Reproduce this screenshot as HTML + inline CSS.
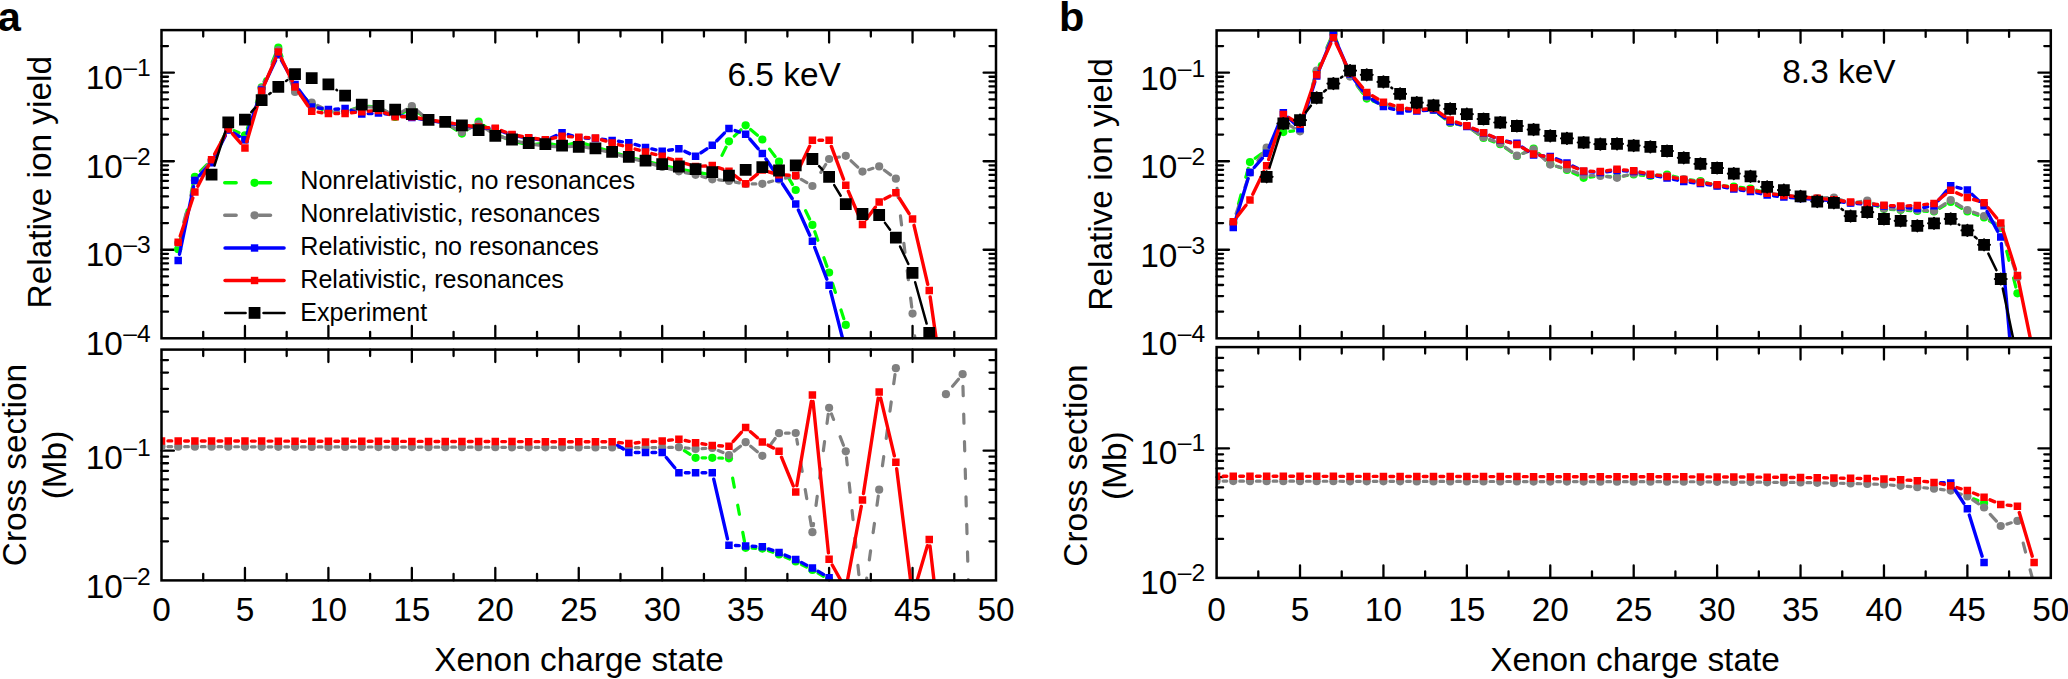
<!DOCTYPE html>
<html lang="en"><head><meta charset="utf-8"><title>Xenon charge state distributions</title>
<style>html,body{margin:0;padding:0;background:#fff}body{width:2068px;height:679px;overflow:hidden}svg{display:block}text{font-family:"Liberation Sans", Arial, Helvetica, sans-serif;fill:#000}</style></head><body>
<svg width="2068" height="679" viewBox="0 0 2068 679">
<rect width="2068" height="679" fill="#fff"/>
<clipPath id="c1"><rect x="161.5" y="30.1" width="834.5" height="308.2"/></clipPath>
<path d="M203.22 30.1v6.5M203.22 338.3v-6.5M244.95 30.1v12.4M244.95 338.3v-12.4M286.68 30.1v6.5M286.68 338.3v-6.5M328.4 30.1v12.4M328.4 338.3v-12.4M370.12 30.1v6.5M370.12 338.3v-6.5M411.85 30.1v12.4M411.85 338.3v-12.4M453.58 30.1v6.5M453.58 338.3v-6.5M495.3 30.1v12.4M495.3 338.3v-12.4M537.03 30.1v6.5M537.03 338.3v-6.5M578.75 30.1v12.4M578.75 338.3v-12.4M620.48 30.1v6.5M620.48 338.3v-6.5M662.2 30.1v12.4M662.2 338.3v-12.4M703.93 30.1v6.5M703.93 338.3v-6.5M745.65 30.1v12.4M745.65 338.3v-12.4M787.38 30.1v6.5M787.38 338.3v-6.5M829.1 30.1v12.4M829.1 338.3v-12.4M870.83 30.1v6.5M870.83 338.3v-6.5M912.55 30.1v12.4M912.55 338.3v-12.4M954.28 30.1v6.5M954.28 338.3v-6.5M161.5 249.76h12.4M996 249.76h-12.4M161.5 161.23h12.4M996 161.23h-12.4M161.5 72.7h12.4M996 72.7h-12.4M161.5 311.64h6.5M996 311.64h-6.5M161.5 296.05h6.5M996 296.05h-6.5M161.5 284.99h6.5M996 284.99h-6.5M161.5 276.41h6.5M996 276.41h-6.5M161.5 269.4h6.5M996 269.4h-6.5M161.5 263.47h6.5M996 263.47h-6.5M161.5 258.34h6.5M996 258.34h-6.5M161.5 253.81h6.5M996 253.81h-6.5M161.5 223.11h6.5M996 223.11h-6.5M161.5 207.52h6.5M996 207.52h-6.5M161.5 196.46h6.5M996 196.46h-6.5M161.5 187.88h6.5M996 187.88h-6.5M161.5 180.87h6.5M996 180.87h-6.5M161.5 174.94h6.5M996 174.94h-6.5M161.5 169.81h6.5M996 169.81h-6.5M161.5 165.28h6.5M996 165.28h-6.5M161.5 134.58h6.5M996 134.58h-6.5M161.5 118.99h6.5M996 118.99h-6.5M161.5 107.93h6.5M996 107.93h-6.5M161.5 99.35h6.5M996 99.35h-6.5M161.5 92.34h6.5M996 92.34h-6.5M161.5 86.41h6.5M996 86.41h-6.5M161.5 81.28h6.5M996 81.28h-6.5M161.5 76.75h6.5M996 76.75h-6.5M161.5 46.05h6.5M996 46.05h-6.5" fill="none" stroke="#000" stroke-width="2.3" stroke-linecap="round"/>
<g clip-path="url(#c1)">
<path d="M193.42 183.13L179.65 242.87M206.99 164.61L199.46 172.19M225.25 133.76L214.58 154.24M238.99 132.7L234.22 130.6M259.5 93.54L247.09 129.16M275.81 53.69L264.16 81.41M292.53 81.99L280.82 53.71M307.16 100.36L299.57 92.64M322.41 109.49L317.7 107.51M338.59 112L334.9 112M355.66 108.2L351.21 109.8M371.98 106.61L368.27 106.39M389.58 113.66L384.05 110.34M406.13 111.09L400.88 113.91M423.26 116.21L417.13 111.79M456.43 130.12L450.72 126.48M473.33 125.39L467.2 129.81M490.08 130.12L483.83 125.48M506 138.49L501.29 136.51M522.36 143.49L518.31 142.51M538.92 143.77L535.13 144.23M555.66 144.85L551.77 144.15M572.43 143.51L568.38 144.49M589.21 145.13L584.98 143.87M605.9 150.13L601.67 148.87M622.59 155.13L618.36 153.87M639.19 159.49L635.14 158.51M655.88 163.49L651.83 162.51M672.57 167.49L668.52 166.51M689.18 170.85L685.29 170.15M705.87 173.85L701.98 173.15M726.08 147.12L715.15 169.18M740.96 129.8L733.65 136.8M757.39 135.29L750.6 129.51M775.12 156.5L766.25 144.7M792.42 184.4L782.33 167.3M809.61 219.04L798.52 195.86M826.95 266.37L814.56 231.03M843.82 318.71L831.07 278.69" fill="none" stroke="#00ff00" stroke-width="3.2" stroke-linecap="round" stroke-dasharray="9.2 18.4"/>
<circle cx="178.19" cy="249.2" r="4.1" fill="#00ff00"/><circle cx="194.88" cy="176.8" r="4.1" fill="#00ff00"/><circle cx="228.26" cy="128" r="4.1" fill="#00ff00"/><circle cx="244.95" cy="135.3" r="4.1" fill="#00ff00"/><circle cx="261.64" cy="87.4" r="4.1" fill="#00ff00"/><circle cx="278.33" cy="47.7" r="4.1" fill="#00ff00"/><circle cx="295.02" cy="88" r="4.1" fill="#00ff00"/><circle cx="311.71" cy="105" r="4.1" fill="#00ff00"/><circle cx="328.4" cy="112" r="4.1" fill="#00ff00"/><circle cx="361.78" cy="106" r="4.1" fill="#00ff00"/><circle cx="395.16" cy="117" r="4.1" fill="#00ff00"/><circle cx="411.85" cy="108" r="4.1" fill="#00ff00"/><circle cx="461.92" cy="133.6" r="4.1" fill="#00ff00"/><circle cx="478.61" cy="121.6" r="4.1" fill="#00ff00"/><circle cx="495.3" cy="134" r="4.1" fill="#00ff00"/><circle cx="511.99" cy="141" r="4.1" fill="#00ff00"/><circle cx="528.68" cy="145" r="4.1" fill="#00ff00"/><circle cx="545.37" cy="143" r="4.1" fill="#00ff00"/><circle cx="562.06" cy="146" r="4.1" fill="#00ff00"/><circle cx="578.75" cy="142" r="4.1" fill="#00ff00"/><circle cx="595.44" cy="147" r="4.1" fill="#00ff00"/><circle cx="612.13" cy="152" r="4.1" fill="#00ff00"/><circle cx="628.82" cy="157" r="4.1" fill="#00ff00"/><circle cx="645.51" cy="161" r="4.1" fill="#00ff00"/><circle cx="662.2" cy="165" r="4.1" fill="#00ff00"/><circle cx="678.89" cy="169" r="4.1" fill="#00ff00"/><circle cx="695.58" cy="172" r="4.1" fill="#00ff00"/><circle cx="712.27" cy="175" r="4.1" fill="#00ff00"/><circle cx="728.96" cy="141.3" r="4.1" fill="#00ff00"/><circle cx="745.65" cy="125.3" r="4.1" fill="#00ff00"/><circle cx="762.34" cy="139.5" r="4.1" fill="#00ff00"/><circle cx="779.03" cy="161.7" r="4.1" fill="#00ff00"/><circle cx="795.72" cy="190" r="4.1" fill="#00ff00"/><circle cx="812.41" cy="224.9" r="4.1" fill="#00ff00"/><circle cx="829.1" cy="272.5" r="4.1" fill="#00ff00"/><circle cx="845.79" cy="324.9" r="4.1" fill="#00ff00"/>
<path d="M193.21 186.68L179.86 236.72M207.45 165.03L199 175.37M225.14 135.2L214.69 154.3M239.37 136.16L233.84 132.84M259.64 94.18L246.95 133.32M275.72 55.95L264.25 82.05M292.61 85.86L280.74 56.04M306.22 99.02L300.51 95.38M322.61 108.05L317.5 105.45M338.6 111.61L334.89 111.39M355.55 108.87L351.32 110.13M371.97 107L368.28 107M389.44 112.91L384.19 110.09M406.24 109.49L400.77 112.71M423.53 115.86L416.86 110.34M438.83 121.85L434.94 121.15M456.18 128.84L450.97 126.06M472.73 126.78L467.8 129.12M489.87 131.42L484.04 127.58M505.76 138.13L501.53 136.87M522.36 142.49L518.31 141.51M538.92 145.23L535.13 144.77M555.57 146.61L551.86 146.39M572.26 146.39L568.55 146.61M589.04 147.85L585.15 147.15M605.81 151.49L601.76 150.51M622.59 156.13L618.36 154.87M639.19 160.49L635.14 159.51M655.97 165.13L651.74 163.87M672.6 169.68L668.49 168.62M689.22 173.47L685.25 172.63M705.99 177.61L701.86 176.49M722.49 180.34L718.74 179.96M739.25 182.85L735.36 182.15M755.84 183.88L752.15 183.92M772.74 181.06L768.63 182.14M789.35 177.3L785.4 178.1M806.83 182.66L801.3 179.34M825.68 164.53L815.83 180.47M839.41 157.02L835.48 157.78M857.76 167.13L850.51 160.27M872.96 168.33L868.69 169.67M890.63 174.84L884.4 170.26M911.75 307.15L896.66 185.15M928.62 482.33L913.17 320.07" fill="none" stroke="#808080" stroke-width="3.2" stroke-linecap="round" stroke-dasharray="9.2 18.4"/>
<circle cx="178.19" cy="243" r="4.1" fill="#808080"/><circle cx="194.88" cy="180.4" r="4.1" fill="#808080"/><circle cx="211.57" cy="160" r="4.1" fill="#808080"/><circle cx="228.26" cy="129.5" r="4.1" fill="#808080"/><circle cx="244.95" cy="139.5" r="4.1" fill="#808080"/><circle cx="261.64" cy="88" r="4.1" fill="#808080"/><circle cx="278.33" cy="50" r="4.1" fill="#808080"/><circle cx="295.02" cy="91.9" r="4.1" fill="#808080"/><circle cx="311.71" cy="102.5" r="4.1" fill="#808080"/><circle cx="328.4" cy="111" r="4.1" fill="#808080"/><circle cx="345.09" cy="112" r="4.1" fill="#808080"/><circle cx="361.78" cy="107" r="4.1" fill="#808080"/><circle cx="378.47" cy="107" r="4.1" fill="#808080"/><circle cx="395.16" cy="116" r="4.1" fill="#808080"/><circle cx="411.85" cy="106.2" r="4.1" fill="#808080"/><circle cx="428.54" cy="120" r="4.1" fill="#808080"/><circle cx="445.23" cy="123" r="4.1" fill="#808080"/><circle cx="461.92" cy="131.9" r="4.1" fill="#808080"/><circle cx="478.61" cy="124" r="4.1" fill="#808080"/><circle cx="495.3" cy="135" r="4.1" fill="#808080"/><circle cx="511.99" cy="140" r="4.1" fill="#808080"/><circle cx="528.68" cy="144" r="4.1" fill="#808080"/><circle cx="545.37" cy="146" r="4.1" fill="#808080"/><circle cx="562.06" cy="147" r="4.1" fill="#808080"/><circle cx="578.75" cy="146" r="4.1" fill="#808080"/><circle cx="595.44" cy="149" r="4.1" fill="#808080"/><circle cx="612.13" cy="153" r="4.1" fill="#808080"/><circle cx="628.82" cy="158" r="4.1" fill="#808080"/><circle cx="645.51" cy="162" r="4.1" fill="#808080"/><circle cx="662.2" cy="167" r="4.1" fill="#808080"/><circle cx="678.89" cy="171.3" r="4.1" fill="#808080"/><circle cx="695.58" cy="174.8" r="4.1" fill="#808080"/><circle cx="712.27" cy="179.3" r="4.1" fill="#808080"/><circle cx="728.96" cy="181" r="4.1" fill="#808080"/><circle cx="745.65" cy="184" r="4.1" fill="#808080"/><circle cx="762.34" cy="183.8" r="4.1" fill="#808080"/><circle cx="779.03" cy="179.4" r="4.1" fill="#808080"/><circle cx="795.72" cy="176" r="4.1" fill="#808080"/><circle cx="812.41" cy="186" r="4.1" fill="#808080"/><circle cx="829.1" cy="159" r="4.1" fill="#808080"/><circle cx="845.79" cy="155.8" r="4.1" fill="#808080"/><circle cx="862.48" cy="171.6" r="4.1" fill="#808080"/><circle cx="879.17" cy="166.4" r="4.1" fill="#808080"/><circle cx="895.86" cy="178.7" r="4.1" fill="#808080"/><circle cx="912.55" cy="313.6" r="4.1" fill="#808080"/><circle cx="929.24" cy="488.8" r="4.1" fill="#808080"/>
<path d="M193.56 186.76L179.51 254.24M207.11 167.43L199.34 175.67M225.31 135.79L214.52 156.91M239.33 136.43L233.88 133.27M259.57 96.16L247.02 133.54M275.55 60.58L264.42 84.12M291.84 78.83L281.51 60.37M307.83 101.69L298.9 89.71M321.98 108.5L318.13 107.9M338.6 108.95L334.89 109.15M355.6 112L351.27 110.6M371.98 113.45L368.27 113.65M388.7 114.26L384.93 113.84M405.42 116.47L401.59 115.93M422.16 119.38L418.23 118.62M438.78 121.83L434.99 121.37M455.52 124.45L451.63 123.75M472.16 126.83L468.37 126.37M488.82 128.4L485.09 128.1M505.9 132.84L501.39 131.16M522.3 137.08L518.37 136.32M538.92 139.59L535.13 139.11M556.16 135.42L551.27 137.68M572.53 135.9L568.28 134.6M588.95 138.29L585.24 138.11M605.67 139.7L601.9 139.3M622.38 141.81L618.57 141.29M639.25 145.64L635.08 144.46M655.87 149.82L651.84 148.88M672.47 149.7L668.62 150.3M689.66 153.61L684.81 151.39M706.84 148.88L701.01 152.72M724.38 133.11L716.85 140.69M739.5 132.1L735.11 130.6M758.1 148.67L749.89 139.13M775.4 173.01L765.97 158.99M792.17 198.55L782.58 183.85M809.75 235.27L798.38 209.93M826.8 279.22L814.71 247.28M844.19 344.7L830.7 291.6" fill="none" stroke="#0000ff" stroke-width="3.4" stroke-linecap="round"/>
<path d="M174.44 256.85h7.5v7.5h-7.5zM191.13 176.65h7.5v7.5h-7.5zM207.82 158.95h7.5v7.5h-7.5zM224.51 126.25h7.5v7.5h-7.5zM241.2 135.95h7.5v7.5h-7.5zM257.89 86.25h7.5v7.5h-7.5zM274.58 50.95h7.5v7.5h-7.5zM291.27 80.75h7.5v7.5h-7.5zM307.96 103.15h7.5v7.5h-7.5zM324.65 105.75h7.5v7.5h-7.5zM341.34 104.85h7.5v7.5h-7.5zM358.03 110.25h7.5v7.5h-7.5zM374.72 109.35h7.5v7.5h-7.5zM391.41 111.25h7.5v7.5h-7.5zM408.1 113.65h7.5v7.5h-7.5zM424.79 116.85h7.5v7.5h-7.5zM441.48 118.85h7.5v7.5h-7.5zM458.17 121.85h7.5v7.5h-7.5zM474.86 123.85h7.5v7.5h-7.5zM491.55 125.15h7.5v7.5h-7.5zM508.24 131.35h7.5v7.5h-7.5zM524.93 134.55h7.5v7.5h-7.5zM541.62 136.65h7.5v7.5h-7.5zM558.31 128.95h7.5v7.5h-7.5zM575 134.05h7.5v7.5h-7.5zM591.69 134.85h7.5v7.5h-7.5zM608.38 136.65h7.5v7.5h-7.5zM625.07 138.95h7.5v7.5h-7.5zM641.76 143.65h7.5v7.5h-7.5zM658.45 147.55h7.5v7.5h-7.5zM675.14 144.95h7.5v7.5h-7.5zM691.83 152.55h7.5v7.5h-7.5zM708.52 141.55h7.5v7.5h-7.5zM725.21 124.75h7.5v7.5h-7.5zM741.9 130.45h7.5v7.5h-7.5zM758.59 149.85h7.5v7.5h-7.5zM775.28 174.65h7.5v7.5h-7.5zM791.97 200.25h7.5v7.5h-7.5zM808.66 237.45h7.5v7.5h-7.5zM825.35 281.55h7.5v7.5h-7.5zM842.04 347.25h7.5v7.5h-7.5z" fill="#0000ff"/>
<path d="M192.84 198.07L180.23 236.13M208.58 165.47L197.87 186.13M225.16 134.71L214.67 153.99M240.66 143.12L232.55 133.88M259.81 97.24L246.78 141.76M275.77 58.07L264.2 85.03M292.21 81.04L281.14 57.96M308.04 105.94L298.69 92.26M321.96 112.71L318.15 112.19M338.59 113.48L334.9 113.52M355.31 112.36L351.56 112.74M371.99 110.9L368.26 111.2M389.08 114.4L384.55 112.7M405.35 116.76L401.66 116.74M422.16 118.78L418.23 118.02M438.78 121.23L434.99 120.77M455.52 123.85L451.63 123.15M472.16 126.23L468.37 125.77M488.82 127.8L485.09 127.5M505.9 132.24L501.39 130.56M522.3 136.48L518.37 135.72M538.92 138.99L535.13 138.51M555.7 137.63L551.73 138.47M572.26 136.85L568.55 136.65M588.95 137.69L585.24 137.51M605.89 141.07L601.68 139.83M622.54 145.71L618.41 144.59M639.23 150.21L635.1 149.09M655.91 154.64L651.8 153.56M672.69 159.63L668.4 158.27M689.34 164.67L685.13 163.43M705.78 165.95L702.07 166.15M722.81 169.2L718.42 167.7M740.43 179.82L734.18 175.18M757.32 174.12L750.67 179.58M772.78 173L768.59 171.8M789.23 175.23L785.52 175.07M809.63 146.17L798.5 169.63M822.6 140.3L818.91 140.3M843.53 179.21L831.36 146.39M859.93 218.52L848.34 191.28M875.3 207.22L866.35 219.28M890.17 195.94L884.86 198.86M909.06 213.52L899.35 198.28M927.76 284.27L914.03 225.33M945 399.57L930.17 297.03" fill="none" stroke="#ff0000" stroke-width="3.4" stroke-linecap="round"/>
<path d="M174.44 238.55h7.5v7.5h-7.5zM191.13 188.15h7.5v7.5h-7.5zM207.82 155.95h7.5v7.5h-7.5zM224.51 125.25h7.5v7.5h-7.5zM241.2 144.25h7.5v7.5h-7.5zM257.89 87.25h7.5v7.5h-7.5zM274.58 48.35h7.5v7.5h-7.5zM291.27 83.15h7.5v7.5h-7.5zM307.96 107.55h7.5v7.5h-7.5zM324.65 109.85h7.5v7.5h-7.5zM341.34 109.65h7.5v7.5h-7.5zM358.03 107.95h7.5v7.5h-7.5zM374.72 106.65h7.5v7.5h-7.5zM391.41 112.95h7.5v7.5h-7.5zM408.1 113.05h7.5v7.5h-7.5zM424.79 116.25h7.5v7.5h-7.5zM441.48 118.25h7.5v7.5h-7.5zM458.17 121.25h7.5v7.5h-7.5zM474.86 123.25h7.5v7.5h-7.5zM491.55 124.55h7.5v7.5h-7.5zM508.24 130.75h7.5v7.5h-7.5zM524.93 133.95h7.5v7.5h-7.5zM541.62 136.05h7.5v7.5h-7.5zM558.31 132.55h7.5v7.5h-7.5zM575 133.45h7.5v7.5h-7.5zM591.69 134.25h7.5v7.5h-7.5zM608.38 139.15h7.5v7.5h-7.5zM625.07 143.65h7.5v7.5h-7.5zM641.76 148.15h7.5v7.5h-7.5zM658.45 152.55h7.5v7.5h-7.5zM675.14 157.85h7.5v7.5h-7.5zM691.83 162.75h7.5v7.5h-7.5zM708.52 161.85h7.5v7.5h-7.5zM725.21 167.55h7.5v7.5h-7.5zM741.9 179.95h7.5v7.5h-7.5zM758.59 166.25h7.5v7.5h-7.5zM775.28 171.05h7.5v7.5h-7.5zM791.97 171.75h7.5v7.5h-7.5zM808.66 136.55h7.5v7.5h-7.5zM825.35 136.55h7.5v7.5h-7.5zM842.04 181.55h7.5v7.5h-7.5zM858.73 220.75h7.5v7.5h-7.5zM875.42 198.25h7.5v7.5h-7.5zM892.11 189.05h7.5v7.5h-7.5zM908.8 215.25h7.5v7.5h-7.5zM925.49 286.85h7.5v7.5h-7.5zM942.18 402.25h7.5v7.5h-7.5z" fill="#ff0000"/>
<path d="M225.29 131.64L214.54 165.36M255.25 107.63L251.34 112.17M270.67 93.01L269.3 94.09M287.22 80.13L286.13 80.97M336.98 90.21L336.51 89.89M822.4 169.65L819.11 166.15M840.68 195.74L834.21 185.16M890.04 229.72L884.99 222.88M908.35 263.94L900.06 246.46M926.62 323.56L915.17 282.24" fill="none" stroke="#000000" stroke-width="2.5" stroke-linecap="round"/>
<path d="M205.67 168.8h11.8v11.8h-11.8zM222.36 116.4h11.8v11.8h-11.8zM239.05 113.7h11.8v11.8h-11.8zM255.74 94.3h11.8v11.8h-11.8zM272.43 81h11.8v11.8h-11.8zM289.12 68.3h11.8v11.8h-11.8zM305.81 72.2h11.8v11.8h-11.8zM322.5 78.5h11.8v11.8h-11.8zM339.19 89.8h11.8v11.8h-11.8zM355.88 98.7h11.8v11.8h-11.8zM372.57 100.1h11.8v11.8h-11.8zM389.26 103.8h11.8v11.8h-11.8zM405.95 108.3h11.8v11.8h-11.8zM422.64 113.9h11.8v11.8h-11.8zM439.33 115.9h11.8v11.8h-11.8zM456.02 119.4h11.8v11.8h-11.8zM472.71 124.2h11.8v11.8h-11.8zM489.4 130h11.8v11.8h-11.8zM506.09 133.6h11.8v11.8h-11.8zM522.78 137.1h11.8v11.8h-11.8zM539.47 138.3h11.8v11.8h-11.8zM556.16 139.7h11.8v11.8h-11.8zM572.85 141h11.8v11.8h-11.8zM589.54 142.4h11.8v11.8h-11.8zM606.23 145.9h11.8v11.8h-11.8zM622.92 150.9h11.8v11.8h-11.8zM639.61 154.8h11.8v11.8h-11.8zM656.3 158.3h11.8v11.8h-11.8zM672.99 160.6h11.8v11.8h-11.8zM689.68 163.3h11.8v11.8h-11.8zM706.37 166.3h11.8v11.8h-11.8zM723.06 169.8h11.8v11.8h-11.8zM739.75 164h11.8v11.8h-11.8zM756.44 161.3h11.8v11.8h-11.8zM773.13 164.6h11.8v11.8h-11.8zM789.82 159.4h11.8v11.8h-11.8zM806.51 153.1h11.8v11.8h-11.8zM823.2 170.9h11.8v11.8h-11.8zM839.89 198.2h11.8v11.8h-11.8zM856.58 208.1h11.8v11.8h-11.8zM873.27 209.1h11.8v11.8h-11.8zM889.96 231.7h11.8v11.8h-11.8zM906.65 266.9h11.8v11.8h-11.8zM923.34 327.1h11.8v11.8h-11.8z" fill="#000000"/>
</g>
<rect x="161.5" y="30.1" width="834.5" height="308.2" fill="none" stroke="#000" stroke-width="2.5" stroke-linejoin="miter"/>
<text x="85.7" y="89.4" font-size="33.4">10<tspan font-size="24.6" dx="0.5" dy="-14">–</tspan><tspan font-size="24.6" dy="1">1</tspan></text>
<text x="85.7" y="177.93" font-size="33.4">10<tspan font-size="24.6" dx="0.5" dy="-14">–</tspan><tspan font-size="24.6" dy="1">2</tspan></text>
<text x="85.7" y="266.46" font-size="33.4">10<tspan font-size="24.6" dx="0.5" dy="-14">–</tspan><tspan font-size="24.6" dy="1">3</tspan></text>
<text x="85.7" y="354.99" font-size="33.4">10<tspan font-size="24.6" dx="0.5" dy="-14">–</tspan><tspan font-size="24.6" dy="1">4</tspan></text>
<clipPath id="c2"><rect x="161.5" y="349.6" width="834.5" height="230.8"/></clipPath>
<path d="M203.22 349.6v6.5M203.22 580.4v-6.5M244.95 349.6v12.4M244.95 580.4v-12.4M286.68 349.6v6.5M286.68 580.4v-6.5M328.4 349.6v12.4M328.4 580.4v-12.4M370.12 349.6v6.5M370.12 580.4v-6.5M411.85 349.6v12.4M411.85 580.4v-12.4M453.58 349.6v6.5M453.58 580.4v-6.5M495.3 349.6v12.4M495.3 580.4v-12.4M537.03 349.6v6.5M537.03 580.4v-6.5M578.75 349.6v12.4M578.75 580.4v-12.4M620.48 349.6v6.5M620.48 580.4v-6.5M662.2 349.6v12.4M662.2 580.4v-12.4M703.93 349.6v6.5M703.93 580.4v-6.5M745.65 349.6v12.4M745.65 580.4v-12.4M787.38 349.6v6.5M787.38 580.4v-6.5M829.1 349.6v12.4M829.1 580.4v-12.4M870.83 349.6v6.5M870.83 580.4v-6.5M912.55 349.6v12.4M912.55 580.4v-12.4M954.28 349.6v6.5M954.28 580.4v-6.5M161.5 450.7h12.4M996 450.7h-12.4M161.5 541.36h6.5M996 541.36h-6.5M161.5 518.52h6.5M996 518.52h-6.5M161.5 502.31h6.5M996 502.31h-6.5M161.5 489.74h6.5M996 489.74h-6.5M161.5 479.47h6.5M996 479.47h-6.5M161.5 470.79h6.5M996 470.79h-6.5M161.5 463.27h6.5M996 463.27h-6.5M161.5 456.63h6.5M996 456.63h-6.5M161.5 411.66h6.5M996 411.66h-6.5M161.5 388.82h6.5M996 388.82h-6.5M161.5 372.61h6.5M996 372.61h-6.5M161.5 360.04h6.5M996 360.04h-6.5" fill="none" stroke="#000" stroke-width="2.3" stroke-linecap="round"/>
<g clip-path="url(#c2)">
<path d="M690.09 454.32L684.38 450.68M705.77 457.8L702.08 457.8M722.46 458.11L718.77 457.99M744.46 541.41L730.15 464.69M755.85 548.29L752.14 548.11M772.9 552.33L768.47 550.77M789.73 558.99L785.02 557.01M806.62 567.05L801.51 564.45M823.45 576.28L818.06 573.22M840.59 588.1L834.3 583.4" fill="none" stroke="#00ff00" stroke-width="3.2" stroke-linecap="round" stroke-dasharray="9.2 18.4"/>
<circle cx="695.58" cy="457.8" r="4.1" fill="#00ff00"/><circle cx="712.27" cy="457.8" r="4.1" fill="#00ff00"/><circle cx="728.96" cy="458.3" r="4.1" fill="#00ff00"/><circle cx="745.65" cy="547.8" r="4.1" fill="#00ff00"/><circle cx="762.34" cy="548.6" r="4.1" fill="#00ff00"/><circle cx="779.03" cy="554.5" r="4.1" fill="#00ff00"/><circle cx="795.72" cy="561.5" r="4.1" fill="#00ff00"/><circle cx="812.41" cy="570" r="4.1" fill="#00ff00"/><circle cx="829.1" cy="579.5" r="4.1" fill="#00ff00"/><circle cx="845.79" cy="592" r="4.1" fill="#00ff00"/>
<path d="M171.69 446.62L168 446.61M188.38 446.65L184.69 446.65M205.07 446.69L201.38 446.68M221.76 446.72L218.07 446.71M238.45 446.75L234.76 446.75M255.14 446.79L251.45 446.78M271.83 446.82L268.14 446.81M288.52 446.85L284.83 446.85M305.21 446.89L301.52 446.88M321.9 446.92L318.21 446.91M338.59 446.95L334.9 446.95M355.28 446.99L351.59 446.98M371.97 447.02L368.28 447.01M388.66 447.05L384.97 447.05M405.35 447.09L401.66 447.08M422.04 447.12L418.35 447.11M438.73 447.15L435.04 447.15M455.42 447.19L451.73 447.18M472.11 447.22L468.42 447.21M488.8 447.25L485.11 447.25M505.49 447.29L501.8 447.28M522.18 447.32L518.49 447.31M538.87 447.35L535.18 447.35M555.56 447.39L551.87 447.38M572.25 447.42L568.56 447.41M588.94 447.45L585.25 447.45M605.63 447.49L601.94 447.48M622.32 447.52L618.63 447.51M639.01 447.55L635.32 447.55M655.7 447.59L652.01 447.58M672.39 447.36L668.7 447.44M689.11 448.24L685.36 447.86M705.78 448.35L702.07 448.55M722.98 452.56L718.25 450.54M740.51 446.18L734.1 451.12M757.3 451.69L750.69 446.31M775.17 438.43L766.2 450.57M789.22 433.08L785.53 433.12M811.33 525.79L796.8 439.41M828.24 414.24L813.27 525.76M843.46 445.23L831.43 413.87M861.79 602.04L846.48 457.76M878.27 496.14L863.38 602.06M894.98 374.64L880.05 483.26M958.46 379.19L950.09 389.21M979.13 975L962.8 380.7" fill="none" stroke="#808080" stroke-width="3.2" stroke-linecap="round" stroke-dasharray="9.2 18.4"/>
<circle cx="161.5" cy="446.6" r="4.1" fill="#808080"/><circle cx="178.19" cy="446.63" r="4.1" fill="#808080"/><circle cx="194.88" cy="446.67" r="4.1" fill="#808080"/><circle cx="211.57" cy="446.7" r="4.1" fill="#808080"/><circle cx="228.26" cy="446.73" r="4.1" fill="#808080"/><circle cx="244.95" cy="446.77" r="4.1" fill="#808080"/><circle cx="261.64" cy="446.8" r="4.1" fill="#808080"/><circle cx="278.33" cy="446.83" r="4.1" fill="#808080"/><circle cx="295.02" cy="446.87" r="4.1" fill="#808080"/><circle cx="311.71" cy="446.9" r="4.1" fill="#808080"/><circle cx="328.4" cy="446.93" r="4.1" fill="#808080"/><circle cx="345.09" cy="446.97" r="4.1" fill="#808080"/><circle cx="361.78" cy="447" r="4.1" fill="#808080"/><circle cx="378.47" cy="447.03" r="4.1" fill="#808080"/><circle cx="395.16" cy="447.07" r="4.1" fill="#808080"/><circle cx="411.85" cy="447.1" r="4.1" fill="#808080"/><circle cx="428.54" cy="447.13" r="4.1" fill="#808080"/><circle cx="445.23" cy="447.17" r="4.1" fill="#808080"/><circle cx="461.92" cy="447.2" r="4.1" fill="#808080"/><circle cx="478.61" cy="447.23" r="4.1" fill="#808080"/><circle cx="495.3" cy="447.27" r="4.1" fill="#808080"/><circle cx="511.99" cy="447.3" r="4.1" fill="#808080"/><circle cx="528.68" cy="447.33" r="4.1" fill="#808080"/><circle cx="545.37" cy="447.37" r="4.1" fill="#808080"/><circle cx="562.06" cy="447.4" r="4.1" fill="#808080"/><circle cx="578.75" cy="447.43" r="4.1" fill="#808080"/><circle cx="595.44" cy="447.47" r="4.1" fill="#808080"/><circle cx="612.13" cy="447.5" r="4.1" fill="#808080"/><circle cx="628.82" cy="447.53" r="4.1" fill="#808080"/><circle cx="645.51" cy="447.57" r="4.1" fill="#808080"/><circle cx="662.2" cy="447.6" r="4.1" fill="#808080"/><circle cx="678.89" cy="447.2" r="4.1" fill="#808080"/><circle cx="695.58" cy="448.9" r="4.1" fill="#808080"/><circle cx="712.27" cy="448" r="4.1" fill="#808080"/><circle cx="728.96" cy="455.1" r="4.1" fill="#808080"/><circle cx="745.65" cy="442.2" r="4.1" fill="#808080"/><circle cx="762.34" cy="455.8" r="4.1" fill="#808080"/><circle cx="779.03" cy="433.2" r="4.1" fill="#808080"/><circle cx="795.72" cy="433" r="4.1" fill="#808080"/><circle cx="812.41" cy="532.2" r="4.1" fill="#808080"/><circle cx="829.1" cy="407.8" r="4.1" fill="#808080"/><circle cx="845.79" cy="451.3" r="4.1" fill="#808080"/><circle cx="862.48" cy="608.5" r="4.1" fill="#808080"/><circle cx="879.17" cy="489.7" r="4.1" fill="#808080"/><circle cx="895.86" cy="368.2" r="4.1" fill="#808080"/><circle cx="945.93" cy="394.2" r="4.1" fill="#808080"/><circle cx="962.62" cy="374.2" r="4.1" fill="#808080"/><circle cx="979.31" cy="981.5" r="4.1" fill="#808080"/>
<path d="M623.35 448.99L617.6 445.31M639.01 452.5L635.32 452.5M655.7 452.5L652.01 452.5M674.76 467.78L666.33 457.52M689.08 472.8L685.39 472.8M705.77 472.8L702.08 472.8M727.5 538.87L713.73 479.13M739.16 545.63L735.45 545.47M755.85 546.45L752.14 546.25M772.89 550.47L768.48 548.93M789.73 557.09L785.02 555.11M806.62 565.15L801.51 562.55M823.47 574.46L818.04 571.34M840.56 586.14L834.33 581.56" fill="none" stroke="#0000ff" stroke-width="3.4" stroke-linecap="round"/>
<path d="M625.07 448.75h7.5v7.5h-7.5zM641.76 448.75h7.5v7.5h-7.5zM658.45 448.75h7.5v7.5h-7.5zM675.14 469.05h7.5v7.5h-7.5zM691.83 469.05h7.5v7.5h-7.5zM708.52 469.05h7.5v7.5h-7.5zM725.21 541.45h7.5v7.5h-7.5zM741.9 542.15h7.5v7.5h-7.5zM758.59 543.05h7.5v7.5h-7.5zM775.28 548.85h7.5v7.5h-7.5zM791.97 555.85h7.5v7.5h-7.5zM808.66 564.35h7.5v7.5h-7.5zM825.35 573.95h7.5v7.5h-7.5zM842.04 586.25h7.5v7.5h-7.5z" fill="#0000ff"/>
<path d="M171.69 440.92L168 440.91M188.38 440.95L184.69 440.95M205.07 440.99L201.38 440.98M221.76 441.02L218.07 441.01M238.45 441.05L234.76 441.05M255.14 441.09L251.45 441.08M271.83 441.12L268.14 441.11M288.52 441.15L284.83 441.15M305.21 441.19L301.52 441.18M321.9 441.22L318.21 441.21M338.59 441.25L334.9 441.25M355.28 441.29L351.59 441.28M371.97 441.32L368.28 441.31M388.66 441.35L384.97 441.35M405.35 441.39L401.66 441.38M422.04 441.42L418.35 441.41M438.73 441.45L435.04 441.45M455.42 441.49L451.73 441.48M472.11 441.52L468.42 441.51M488.8 441.55L485.11 441.55M505.49 441.59L501.8 441.58M522.18 441.62L518.49 441.61M538.87 441.65L535.18 441.65M555.56 441.69L551.87 441.68M572.25 441.72L568.56 441.71M588.94 441.75L585.25 441.75M605.63 441.79L601.94 441.78M622.36 442.9L618.59 442.5M639.04 442.56L635.29 442.94M655.71 441.35L652 441.55M672.43 439.9L668.66 440.3M689.22 441.37L685.25 440.53M705.85 444.36L702 443.74M722.47 445.95L718.76 445.75M741.35 432.27L733.26 441.43M757.45 437.72L750.54 431.68M773.34 448.06L768.03 445.14M793.26 485.98L781.49 457.22M811.31 401.51L796.82 485.59M828.44 552.83L813.07 401.57M842.63 583.62L832.26 564.98M861.29 506.39L846.98 582.91M878.18 398.32L863.47 493.58M894.36 455.88L880.67 398.22M911.75 589.55L896.66 468.65M927.4 545.63L914.39 589.77M945.18 677.54L929.99 545.86" fill="none" stroke="#ff0000" stroke-width="3.4" stroke-linecap="round"/>
<path d="M157.75 437.15h7.5v7.5h-7.5zM174.44 437.18h7.5v7.5h-7.5zM191.13 437.22h7.5v7.5h-7.5zM207.82 437.25h7.5v7.5h-7.5zM224.51 437.28h7.5v7.5h-7.5zM241.2 437.32h7.5v7.5h-7.5zM257.89 437.35h7.5v7.5h-7.5zM274.58 437.38h7.5v7.5h-7.5zM291.27 437.42h7.5v7.5h-7.5zM307.96 437.45h7.5v7.5h-7.5zM324.65 437.48h7.5v7.5h-7.5zM341.34 437.52h7.5v7.5h-7.5zM358.03 437.55h7.5v7.5h-7.5zM374.72 437.58h7.5v7.5h-7.5zM391.41 437.62h7.5v7.5h-7.5zM408.1 437.65h7.5v7.5h-7.5zM424.79 437.68h7.5v7.5h-7.5zM441.48 437.72h7.5v7.5h-7.5zM458.17 437.75h7.5v7.5h-7.5zM474.86 437.78h7.5v7.5h-7.5zM491.55 437.82h7.5v7.5h-7.5zM508.24 437.85h7.5v7.5h-7.5zM524.93 437.88h7.5v7.5h-7.5zM541.62 437.92h7.5v7.5h-7.5zM558.31 437.95h7.5v7.5h-7.5zM575 437.98h7.5v7.5h-7.5zM591.69 438.02h7.5v7.5h-7.5zM608.38 438.05h7.5v7.5h-7.5zM625.07 439.85h7.5v7.5h-7.5zM641.76 438.15h7.5v7.5h-7.5zM658.45 437.25h7.5v7.5h-7.5zM675.14 435.45h7.5v7.5h-7.5zM691.83 438.95h7.5v7.5h-7.5zM708.52 441.65h7.5v7.5h-7.5zM725.21 442.55h7.5v7.5h-7.5zM741.9 423.65h7.5v7.5h-7.5zM758.59 438.25h7.5v7.5h-7.5zM775.28 447.45h7.5v7.5h-7.5zM791.97 488.25h7.5v7.5h-7.5zM808.66 391.35h7.5v7.5h-7.5zM825.35 555.55h7.5v7.5h-7.5zM842.04 585.55h7.5v7.5h-7.5zM858.73 496.25h7.5v7.5h-7.5zM875.42 388.15h7.5v7.5h-7.5zM892.11 458.45h7.5v7.5h-7.5zM908.8 592.25h7.5v7.5h-7.5zM925.49 535.65h7.5v7.5h-7.5zM942.18 680.25h7.5v7.5h-7.5z" fill="#ff0000"/>
</g>
<rect x="161.5" y="349.6" width="834.5" height="230.8" fill="none" stroke="#000" stroke-width="2.5" stroke-linejoin="miter"/>
<text x="85.7" y="469.2" font-size="33.4">10<tspan font-size="24.6" dx="0.5" dy="-14">–</tspan><tspan font-size="24.6" dy="1">1</tspan></text>
<text x="85.7" y="597.7" font-size="33.4">10<tspan font-size="24.6" dx="0.5" dy="-14">–</tspan><tspan font-size="24.6" dy="1">2</tspan></text>
<text x="161.5" y="621.4" font-size="33.4" text-anchor="middle">0</text>
<text x="244.95" y="621.4" font-size="33.4" text-anchor="middle">5</text>
<text x="328.4" y="621.4" font-size="33.4" text-anchor="middle">10</text>
<text x="411.85" y="621.4" font-size="33.4" text-anchor="middle">15</text>
<text x="495.3" y="621.4" font-size="33.4" text-anchor="middle">20</text>
<text x="578.75" y="621.4" font-size="33.4" text-anchor="middle">25</text>
<text x="662.2" y="621.4" font-size="33.4" text-anchor="middle">30</text>
<text x="745.65" y="621.4" font-size="33.4" text-anchor="middle">35</text>
<text x="829.1" y="621.4" font-size="33.4" text-anchor="middle">40</text>
<text x="912.55" y="621.4" font-size="33.4" text-anchor="middle">45</text>
<text x="996" y="621.4" font-size="33.4" text-anchor="middle">50</text>
<text x="579" y="671.4" font-size="33.4" text-anchor="middle">Xenon charge state</text>
<text transform="translate(51.3 182.2) rotate(-90)" font-size="33.4" text-anchor="middle">Relative ion yield</text>
<text transform="translate(26.4 465) rotate(-90)" font-size="33.4" text-anchor="middle">Cross section</text>
<text transform="translate(66 465) rotate(-90)" font-size="33.4" text-anchor="middle">(Mb)</text>
<text x="-2.3" y="30.6" font-size="41.5" font-weight="bold">a</text>
<text x="727.5" y="85.9" font-size="33.4">6.5 keV</text>
<clipPath id="c3"><rect x="1216.6" y="30.4" width="834.2" height="307.9"/></clipPath>
<path d="M1258.31 30.4v6.5M1258.31 338.3v-6.5M1300.02 30.4v12.4M1300.02 338.3v-12.4M1341.73 30.4v6.5M1341.73 338.3v-6.5M1383.44 30.4v12.4M1383.44 338.3v-12.4M1425.15 30.4v6.5M1425.15 338.3v-6.5M1466.86 30.4v12.4M1466.86 338.3v-12.4M1508.57 30.4v6.5M1508.57 338.3v-6.5M1550.28 30.4v12.4M1550.28 338.3v-12.4M1591.99 30.4v6.5M1591.99 338.3v-6.5M1633.7 30.4v12.4M1633.7 338.3v-12.4M1675.41 30.4v6.5M1675.41 338.3v-6.5M1717.12 30.4v12.4M1717.12 338.3v-12.4M1758.83 30.4v6.5M1758.83 338.3v-6.5M1800.54 30.4v12.4M1800.54 338.3v-12.4M1842.25 30.4v6.5M1842.25 338.3v-6.5M1883.96 30.4v12.4M1883.96 338.3v-12.4M1925.67 30.4v6.5M1925.67 338.3v-6.5M1967.38 30.4v12.4M1967.38 338.3v-12.4M2009.09 30.4v6.5M2009.09 338.3v-6.5M1216.6 249.76h12.4M2050.8 249.76h-12.4M1216.6 161.23h12.4M2050.8 161.23h-12.4M1216.6 72.7h12.4M2050.8 72.7h-12.4M1216.6 311.64h6.5M2050.8 311.64h-6.5M1216.6 296.05h6.5M2050.8 296.05h-6.5M1216.6 284.99h6.5M2050.8 284.99h-6.5M1216.6 276.41h6.5M2050.8 276.41h-6.5M1216.6 269.4h6.5M2050.8 269.4h-6.5M1216.6 263.47h6.5M2050.8 263.47h-6.5M1216.6 258.34h6.5M2050.8 258.34h-6.5M1216.6 253.81h6.5M2050.8 253.81h-6.5M1216.6 223.11h6.5M2050.8 223.11h-6.5M1216.6 207.52h6.5M2050.8 207.52h-6.5M1216.6 196.46h6.5M2050.8 196.46h-6.5M1216.6 187.88h6.5M2050.8 187.88h-6.5M1216.6 180.87h6.5M2050.8 180.87h-6.5M1216.6 174.94h6.5M2050.8 174.94h-6.5M1216.6 169.81h6.5M2050.8 169.81h-6.5M1216.6 165.28h6.5M2050.8 165.28h-6.5M1216.6 134.58h6.5M2050.8 134.58h-6.5M1216.6 118.99h6.5M2050.8 118.99h-6.5M1216.6 107.93h6.5M2050.8 107.93h-6.5M1216.6 99.35h6.5M2050.8 99.35h-6.5M1216.6 92.34h6.5M2050.8 92.34h-6.5M1216.6 86.41h6.5M2050.8 86.41h-6.5M1216.6 81.28h6.5M2050.8 81.28h-6.5M1216.6 76.75h6.5M2050.8 76.75h-6.5M1216.6 46.05h6.5M2050.8 46.05h-6.5" fill="none" stroke="#000" stroke-width="2.3" stroke-linecap="round"/>
<g clip-path="url(#c3)">
<path d="M1248.25 168.37L1235 216.73M1261.39 153.82L1255.23 158.28M1278.9 136.85L1271.08 145.25M1293.57 130.81L1289.79 131.29M1314.93 77.55L1301.8 123.75M1330.81 38.67L1319.28 65.33M1347.73 69.93L1335.73 38.77M1362.9 93.37L1353.93 81.23M1377.37 102.67L1372.82 100.93M1393.8 107.48L1389.76 106.52M1410.32 109.61L1406.61 109.39M1426.99 110L1423.31 110M1445.03 118.92L1438.63 113.98M1460.47 124.81L1456.57 124.09M1478.27 134.2L1472.14 129.8M1494.14 141.94L1489.64 140.26M1511.61 152.25L1505.53 147.95M1527.64 151.31L1522.87 153.39M1545.49 159.61L1538.39 153.09M1560.85 167.8L1556.4 166.2M1577.76 175.05L1572.85 172.75M1593.87 176.7L1590.11 177.1M1610.53 176.61L1606.82 176.39M1627.27 175.46L1623.44 176.04M1643.91 175.42L1640.17 175.08M1660.59 175.08L1656.86 175.42M1677.48 177.31L1673.34 176.19M1693.98 180.23L1690.21 179.77M1710.84 183.81L1706.71 182.69M1727.32 186.11L1723.61 185.89M1744.03 187.73L1740.26 187.27M1760.9 191.31L1756.76 190.19M1827.42 198.61L1823.71 198.39M1844.27 201.48L1840.23 200.52M1860.79 202.39L1857.08 202.61M1877.97 206.49L1873.27 204.51M1894.16 209.61L1890.45 209.39M1910.84 210.61L1907.13 210.39M1927.51 211.31L1923.83 211.19M1945.05 205.22L1939.66 208.28M1961.73 208.28L1956.34 205.22M1977.95 215.3L1973.5 213.7M1995.25 224.54L1989.57 220.96M2015.82 287L2002.36 234.3" fill="none" stroke="#00ff00" stroke-width="3.2" stroke-linecap="round" stroke-dasharray="9.2 18.4"/>
<circle cx="1233.28" cy="223" r="4.1" fill="#00ff00"/><circle cx="1249.97" cy="162.1" r="4.1" fill="#00ff00"/><circle cx="1266.65" cy="150" r="4.1" fill="#00ff00"/><circle cx="1283.34" cy="132.1" r="4.1" fill="#00ff00"/><circle cx="1300.02" cy="130" r="4.1" fill="#00ff00"/><circle cx="1316.7" cy="71.3" r="4.1" fill="#00ff00"/><circle cx="1333.39" cy="32.7" r="4.1" fill="#00ff00"/><circle cx="1350.07" cy="76" r="4.1" fill="#00ff00"/><circle cx="1366.76" cy="98.6" r="4.1" fill="#00ff00"/><circle cx="1383.44" cy="105" r="4.1" fill="#00ff00"/><circle cx="1400.12" cy="109" r="4.1" fill="#00ff00"/><circle cx="1416.81" cy="110" r="4.1" fill="#00ff00"/><circle cx="1433.49" cy="110" r="4.1" fill="#00ff00"/><circle cx="1450.18" cy="122.9" r="4.1" fill="#00ff00"/><circle cx="1483.54" cy="138" r="4.1" fill="#00ff00"/><circle cx="1500.23" cy="144.2" r="4.1" fill="#00ff00"/><circle cx="1516.91" cy="156" r="4.1" fill="#00ff00"/><circle cx="1533.6" cy="148.7" r="4.1" fill="#00ff00"/><circle cx="1550.28" cy="164" r="4.1" fill="#00ff00"/><circle cx="1566.96" cy="170" r="4.1" fill="#00ff00"/><circle cx="1583.65" cy="177.8" r="4.1" fill="#00ff00"/><circle cx="1617.02" cy="177" r="4.1" fill="#00ff00"/><circle cx="1633.7" cy="174.5" r="4.1" fill="#00ff00"/><circle cx="1650.38" cy="176" r="4.1" fill="#00ff00"/><circle cx="1667.07" cy="174.5" r="4.1" fill="#00ff00"/><circle cx="1700.44" cy="181" r="4.1" fill="#00ff00"/><circle cx="1717.12" cy="185.5" r="4.1" fill="#00ff00"/><circle cx="1733.8" cy="186.5" r="4.1" fill="#00ff00"/><circle cx="1750.49" cy="188.5" r="4.1" fill="#00ff00"/><circle cx="1833.91" cy="199" r="4.1" fill="#00ff00"/><circle cx="1867.28" cy="202" r="4.1" fill="#00ff00"/><circle cx="1883.96" cy="209" r="4.1" fill="#00ff00"/><circle cx="1900.64" cy="210" r="4.1" fill="#00ff00"/><circle cx="1917.33" cy="211" r="4.1" fill="#00ff00"/><circle cx="1934.01" cy="211.5" r="4.1" fill="#00ff00"/><circle cx="1950.7" cy="202" r="4.1" fill="#00ff00"/><circle cx="1967.38" cy="211.5" r="4.1" fill="#00ff00"/><circle cx="1984.06" cy="217.5" r="4.1" fill="#00ff00"/><circle cx="2000.75" cy="228" r="4.1" fill="#00ff00"/><circle cx="2017.43" cy="293.3" r="4.1" fill="#00ff00"/>
<path d="M1247.9 178.56L1235.36 215.84M1263.03 152.9L1253.59 167M1279.78 127.44L1270.21 142.06M1294.34 128.14L1289.01 125.16M1314.98 76.77L1301.74 125.03M1330.69 39.91L1319.41 64.59M1347.7 70.55L1335.76 40.05M1362.64 91.97L1354.19 81.63M1377.45 101.49L1372.75 99.51M1393.8 106.48L1389.76 105.52M1410.32 108.61L1406.61 108.39M1426.99 109L1423.31 109M1445.12 118.41L1438.54 113.09M1460.5 124.67L1456.54 123.83M1478.15 133.58L1472.26 129.62M1494.12 141.07L1489.65 139.43M1511.7 151.82L1505.44 147.18M1527.5 151.76L1523 153.44M1545.46 160.24L1538.42 153.86M1560.68 167.34L1556.57 166.26M1577.56 172.94L1573.06 171.26M1593.84 175.69L1590.14 175.51M1610.55 177.1L1606.79 176.7M1627.41 175.06L1623.3 176.14M1643.91 174.38L1640.17 174.02M1660.58 175.61L1656.87 175.39M1677.35 177.85L1673.47 177.15M1694.04 180.85L1690.15 180.15M1710.72 183.85L1706.83 183.15M1727.41 186.85L1723.52 186.15M1744.03 189.23L1740.26 188.77M1760.77 191.85L1756.89 191.15M1777.4 194.23L1773.63 193.77M1794.09 196.23L1790.31 195.77M1810.74 197.61L1807.03 197.39M1827.41 197.69L1823.72 197.81M1844.42 200.96L1840.08 199.54M1860.85 201.46L1857.02 202.04M1878.11 205.76L1873.12 203.34M1894.15 209.03L1890.45 208.87M1910.83 209.73L1907.14 209.57M1927.52 210.49L1923.82 210.31M1945.22 203.61L1939.48 207.29M1961.8 206.76L1956.27 203.44M1977.94 213.83L1973.51 212.27M1995.32 223.42L1989.49 219.58M2015.39 271.23L2002.79 233.17" fill="none" stroke="#808080" stroke-width="3.2" stroke-linecap="round" stroke-dasharray="9.2 18.4"/>
<circle cx="1233.28" cy="222" r="4.1" fill="#808080"/><circle cx="1249.97" cy="172.4" r="4.1" fill="#808080"/><circle cx="1266.65" cy="147.5" r="4.1" fill="#808080"/><circle cx="1283.34" cy="122" r="4.1" fill="#808080"/><circle cx="1300.02" cy="131.3" r="4.1" fill="#808080"/><circle cx="1316.7" cy="70.5" r="4.1" fill="#808080"/><circle cx="1333.39" cy="34" r="4.1" fill="#808080"/><circle cx="1350.07" cy="76.6" r="4.1" fill="#808080"/><circle cx="1366.76" cy="97" r="4.1" fill="#808080"/><circle cx="1383.44" cy="104" r="4.1" fill="#808080"/><circle cx="1400.12" cy="108" r="4.1" fill="#808080"/><circle cx="1416.81" cy="109" r="4.1" fill="#808080"/><circle cx="1433.49" cy="109" r="4.1" fill="#808080"/><circle cx="1450.18" cy="122.5" r="4.1" fill="#808080"/><circle cx="1466.86" cy="126" r="4.1" fill="#808080"/><circle cx="1483.54" cy="137.2" r="4.1" fill="#808080"/><circle cx="1500.23" cy="143.3" r="4.1" fill="#808080"/><circle cx="1516.91" cy="155.7" r="4.1" fill="#808080"/><circle cx="1533.6" cy="149.5" r="4.1" fill="#808080"/><circle cx="1550.28" cy="164.6" r="4.1" fill="#808080"/><circle cx="1566.96" cy="169" r="4.1" fill="#808080"/><circle cx="1583.65" cy="175.2" r="4.1" fill="#808080"/><circle cx="1600.33" cy="176" r="4.1" fill="#808080"/><circle cx="1617.02" cy="177.8" r="4.1" fill="#808080"/><circle cx="1633.7" cy="173.4" r="4.1" fill="#808080"/><circle cx="1650.38" cy="175" r="4.1" fill="#808080"/><circle cx="1667.07" cy="176" r="4.1" fill="#808080"/><circle cx="1683.75" cy="179" r="4.1" fill="#808080"/><circle cx="1700.44" cy="182" r="4.1" fill="#808080"/><circle cx="1717.12" cy="185" r="4.1" fill="#808080"/><circle cx="1733.8" cy="188" r="4.1" fill="#808080"/><circle cx="1750.49" cy="190" r="4.1" fill="#808080"/><circle cx="1767.17" cy="193" r="4.1" fill="#808080"/><circle cx="1783.86" cy="195" r="4.1" fill="#808080"/><circle cx="1800.54" cy="197" r="4.1" fill="#808080"/><circle cx="1817.22" cy="198" r="4.1" fill="#808080"/><circle cx="1833.91" cy="197.5" r="4.1" fill="#808080"/><circle cx="1850.59" cy="203" r="4.1" fill="#808080"/><circle cx="1867.28" cy="200.5" r="4.1" fill="#808080"/><circle cx="1883.96" cy="208.6" r="4.1" fill="#808080"/><circle cx="1900.64" cy="209.3" r="4.1" fill="#808080"/><circle cx="1917.33" cy="210" r="4.1" fill="#808080"/><circle cx="1934.01" cy="210.8" r="4.1" fill="#808080"/><circle cx="1950.7" cy="200.1" r="4.1" fill="#808080"/><circle cx="1967.38" cy="210.1" r="4.1" fill="#808080"/><circle cx="1984.06" cy="216" r="4.1" fill="#808080"/><circle cx="2000.75" cy="227" r="4.1" fill="#808080"/><circle cx="2017.43" cy="277.4" r="4.1" fill="#808080"/>
<path d="M1248.08 178.62L1235.17 221.28M1262.38 158.2L1254.24 167.5M1280.86 118.81L1269.13 147.29M1295.31 124.22L1288.04 117.28M1314.74 82.2L1301.98 122.5M1330.94 41.02L1319.15 69.98M1347.52 68.02L1335.94 40.98M1362.83 90.82L1354 79.18M1377.95 103.11L1372.24 99.49M1393.84 109.34L1389.73 108.26M1410.31 111L1406.62 111M1427 110.39L1423.3 110.61M1444.84 117.89L1438.83 113.71M1460.62 124.67L1456.41 123.43M1477.49 130.64L1472.92 128.86M1494.23 137.49L1489.54 135.51M1510.54 142.04L1506.6 141.26M1528.27 151.27L1522.23 147.03M1543.81 155.92L1540.07 155.58M1560.91 160.64L1556.34 158.86M1577.86 168.55L1572.76 165.95M1593.84 172.11L1590.14 171.89M1610.56 171.27L1606.79 171.73M1627.21 171.11L1623.5 170.89M1644.02 173.67L1640.06 172.83M1660.67 176.85L1656.78 176.15M1677.39 180.17L1673.43 179.33M1693.98 182.73L1690.21 182.27M1710.69 185.04L1706.86 184.46M1727.41 187.85L1723.52 187.15M1744.06 190.54L1740.23 189.96M1760.81 193.67L1756.85 192.83M1777.4 196.23L1773.63 195.77M1794.07 197.92L1790.33 197.58M1810.74 199.11L1807.03 198.89M1827.43 200.42L1823.7 200.08M1844.14 202.23L1840.36 201.77M1860.8 203.92L1857.07 203.58M1877.49 205.42L1873.75 205.08M1894.16 206.61L1890.45 206.39M1910.86 207.98L1907.11 207.62M1927.61 206.81L1923.73 207.49M1946.52 190.78L1938.19 200.72M1961.07 188.35L1957.01 187.35M1979.34 201.23L1972.1 194.37M1997.7 231.36L1987.11 211.44M2016.85 416.53L2001.33 243.57" fill="none" stroke="#0000ff" stroke-width="3.4" stroke-linecap="round"/>
<path d="M1229.53 223.75h7.5v7.5h-7.5zM1246.22 168.65h7.5v7.5h-7.5zM1262.9 149.55h7.5v7.5h-7.5zM1279.59 109.05h7.5v7.5h-7.5zM1296.27 124.95h7.5v7.5h-7.5zM1312.95 72.25h7.5v7.5h-7.5zM1329.64 31.25h7.5v7.5h-7.5zM1346.32 70.25h7.5v7.5h-7.5zM1363.01 92.25h7.5v7.5h-7.5zM1379.69 102.85h7.5v7.5h-7.5zM1396.37 107.25h7.5v7.5h-7.5zM1413.06 107.25h7.5v7.5h-7.5zM1429.74 106.25h7.5v7.5h-7.5zM1446.43 117.85h7.5v7.5h-7.5zM1463.11 122.75h7.5v7.5h-7.5zM1479.79 129.25h7.5v7.5h-7.5zM1496.48 136.25h7.5v7.5h-7.5zM1513.16 139.55h7.5v7.5h-7.5zM1529.85 151.25h7.5v7.5h-7.5zM1546.53 152.75h7.5v7.5h-7.5zM1563.21 159.25h7.5v7.5h-7.5zM1579.9 167.75h7.5v7.5h-7.5zM1596.58 168.75h7.5v7.5h-7.5zM1613.27 166.75h7.5v7.5h-7.5zM1629.95 167.75h7.5v7.5h-7.5zM1646.63 171.25h7.5v7.5h-7.5zM1663.32 174.25h7.5v7.5h-7.5zM1680 177.75h7.5v7.5h-7.5zM1696.69 179.75h7.5v7.5h-7.5zM1713.37 182.25h7.5v7.5h-7.5zM1730.05 185.25h7.5v7.5h-7.5zM1746.74 187.75h7.5v7.5h-7.5zM1763.42 191.25h7.5v7.5h-7.5zM1780.11 193.25h7.5v7.5h-7.5zM1796.79 194.75h7.5v7.5h-7.5zM1813.47 195.75h7.5v7.5h-7.5zM1830.16 197.25h7.5v7.5h-7.5zM1846.84 199.25h7.5v7.5h-7.5zM1863.53 200.75h7.5v7.5h-7.5zM1880.21 202.25h7.5v7.5h-7.5zM1896.89 203.25h7.5v7.5h-7.5zM1913.58 204.85h7.5v7.5h-7.5zM1930.26 201.95h7.5v7.5h-7.5zM1946.95 182.05h7.5v7.5h-7.5zM1963.63 186.15h7.5v7.5h-7.5zM1980.31 201.95h7.5v7.5h-7.5zM1997 233.35h7.5v7.5h-7.5zM2013.68 419.25h7.5v7.5h-7.5z" fill="#0000ff"/>
<path d="M1245.99 205.24L1237.26 216.56M1263.82 171.55L1252.8 194.25M1281.32 120.68L1268.67 159.52M1294.42 121.01L1288.94 117.79M1314.63 80.96L1302.1 118.14M1330.72 43.63L1319.37 68.87M1347.29 67.12L1336.17 43.58M1362.53 87.56L1354.3 77.94M1377.82 98.93L1372.38 95.77M1393.93 105.53L1389.63 104.17M1410.39 109.1L1406.55 108.5M1427.03 109.06L1423.27 109.44M1444.84 116.29L1438.83 112.11M1460.71 123.6L1456.33 122.1M1477.55 130.19L1472.85 128.21M1494.25 137.25L1489.52 135.25M1510.67 142.8L1506.47 141.6M1527.93 150.81L1522.58 147.79M1543.92 156.17L1539.96 155.33M1560.98 162.05L1556.26 160.05M1577.59 168.74L1573.02 166.96M1593.83 171.41L1590.15 171.29M1610.58 170.19L1606.77 170.71M1627.22 170.16L1623.49 169.84M1644.03 172.93L1640.05 172.07M1660.62 175.59L1656.83 175.11M1677.36 178.31L1673.46 177.59M1694.04 181.35L1690.15 180.65M1710.68 183.91L1706.88 183.39M1727.41 186.65L1723.52 185.95M1744.03 188.96L1740.26 188.54M1760.82 191.93L1756.84 191.07M1777.41 194.59L1773.62 194.11M1794.07 196.38L1790.33 196.02M1810.74 197.73L1807.02 197.47M1827.44 199.18L1823.69 198.82M1844.15 201.21L1840.35 200.69M1860.8 202.9L1857.07 202.6M1877.5 204.56L1873.73 204.14M1894.15 205.79L1890.45 205.61M1910.83 205.67L1907.14 205.83M1927.56 204.17L1923.78 204.63M1945.6 194.23L1939.11 199.37M1961.44 194.96L1956.64 192.84M1977.85 200.8L1973.6 199.5M1996.62 217.98L1988.19 207.72M2015.46 269.31L2002.72 229.19M2032.81 350.43L2018.74 281.87" fill="none" stroke="#ff0000" stroke-width="3.4" stroke-linecap="round"/>
<path d="M1229.53 217.95h7.5v7.5h-7.5zM1246.22 196.35h7.5v7.5h-7.5zM1262.9 161.95h7.5v7.5h-7.5zM1279.59 110.75h7.5v7.5h-7.5zM1296.27 120.55h7.5v7.5h-7.5zM1312.95 71.05h7.5v7.5h-7.5zM1329.64 33.95h7.5v7.5h-7.5zM1346.32 69.25h7.5v7.5h-7.5zM1363.01 88.75h7.5v7.5h-7.5zM1379.69 98.45h7.5v7.5h-7.5zM1396.37 103.75h7.5v7.5h-7.5zM1413.06 106.35h7.5v7.5h-7.5zM1429.74 104.65h7.5v7.5h-7.5zM1446.43 116.25h7.5v7.5h-7.5zM1463.11 121.95h7.5v7.5h-7.5zM1479.79 128.95h7.5v7.5h-7.5zM1496.48 136.05h7.5v7.5h-7.5zM1513.16 140.85h7.5v7.5h-7.5zM1529.85 150.25h7.5v7.5h-7.5zM1546.53 153.75h7.5v7.5h-7.5zM1563.21 160.85h7.5v7.5h-7.5zM1579.9 167.35h7.5v7.5h-7.5zM1596.58 167.85h7.5v7.5h-7.5zM1613.27 165.55h7.5v7.5h-7.5zM1629.95 166.95h7.5v7.5h-7.5zM1646.63 170.55h7.5v7.5h-7.5zM1663.32 172.65h7.5v7.5h-7.5zM1680 175.75h7.5v7.5h-7.5zM1696.69 178.75h7.5v7.5h-7.5zM1713.37 181.05h7.5v7.5h-7.5zM1730.05 184.05h7.5v7.5h-7.5zM1746.74 185.95h7.5v7.5h-7.5zM1763.42 189.55h7.5v7.5h-7.5zM1780.11 191.65h7.5v7.5h-7.5zM1796.79 193.25h7.5v7.5h-7.5zM1813.47 194.45h7.5v7.5h-7.5zM1830.16 196.05h7.5v7.5h-7.5zM1846.84 198.35h7.5v7.5h-7.5zM1863.53 199.65h7.5v7.5h-7.5zM1880.21 201.55h7.5v7.5h-7.5zM1896.89 202.35h7.5v7.5h-7.5zM1913.58 201.65h7.5v7.5h-7.5zM1930.26 199.65h7.5v7.5h-7.5zM1946.95 186.45h7.5v7.5h-7.5zM1963.63 193.85h7.5v7.5h-7.5zM1980.31 198.95h7.5v7.5h-7.5zM1997 219.25h7.5v7.5h-7.5zM2013.68 271.75h7.5v7.5h-7.5zM2030.37 353.05h7.5v7.5h-7.5z" fill="#ff0000"/>
<path d="M1280.41 132.85L1269.58 167.45M1310.85 105.66L1305.87 112.34M1325.93 89.95L1324.17 91.45M1342.32 76.69L1341.14 77.61M1392.17 88.18L1391.4 87.62M1758.9 181.64L1758.76 181.56M1842.93 209.99L1841.57 208.91M1959.31 224.84L1958.76 224.46M1976.65 238.4L1974.8 236.8M1996.45 270.19L1988.36 253.61M2015.43 349.31L2002.75 288.59" fill="none" stroke="#000000" stroke-width="2.5" stroke-linecap="round"/>
<path d="M1260.75 170.9h11.8v11.8h-11.8zM1277.44 117.6h11.8v11.8h-11.8zM1294.12 114.3h11.8v11.8h-11.8zM1310.8 91.9h11.8v11.8h-11.8zM1327.49 77.7h11.8v11.8h-11.8zM1344.17 64.8h11.8v11.8h-11.8zM1360.86 68.9h11.8v11.8h-11.8zM1377.54 76h11.8v11.8h-11.8zM1394.22 88h11.8v11.8h-11.8zM1410.91 96.8h11.8v11.8h-11.8zM1427.59 99.5h11.8v11.8h-11.8zM1444.28 103h11.8v11.8h-11.8zM1460.96 108.3h11.8v11.8h-11.8zM1477.64 113.1h11.8v11.8h-11.8zM1494.33 116.6h11.8v11.8h-11.8zM1511.01 120.1h11.8v11.8h-11.8zM1527.7 123.7h11.8v11.8h-11.8zM1544.38 130h11.8v11.8h-11.8zM1561.06 132.5h11.8v11.8h-11.8zM1577.75 136.6h11.8v11.8h-11.8zM1594.43 138.3h11.8v11.8h-11.8zM1611.12 138h11.8v11.8h-11.8zM1627.8 139.7h11.8v11.8h-11.8zM1644.48 141h11.8v11.8h-11.8zM1661.17 145.1h11.8v11.8h-11.8zM1677.85 151.9h11.8v11.8h-11.8zM1694.54 158h11.8v11.8h-11.8zM1711.22 162.1h11.8v11.8h-11.8zM1727.9 167.8h11.8v11.8h-11.8zM1744.59 170.4h11.8v11.8h-11.8zM1761.27 181h11.8v11.8h-11.8zM1777.96 184.2h11.8v11.8h-11.8zM1794.64 190.4h11.8v11.8h-11.8zM1811.32 195.7h11.8v11.8h-11.8zM1828.01 196.9h11.8v11.8h-11.8zM1844.69 210.2h11.8v11.8h-11.8zM1861.38 206.3h11.8v11.8h-11.8zM1878.06 213.1h11.8v11.8h-11.8zM1894.74 214.9h11.8v11.8h-11.8zM1911.43 219.9h11.8v11.8h-11.8zM1928.11 217.4h11.8v11.8h-11.8zM1944.8 213h11.8v11.8h-11.8zM1961.48 224.5h11.8v11.8h-11.8zM1978.16 238.9h11.8v11.8h-11.8zM1994.85 273.1h11.8v11.8h-11.8zM2011.53 353h11.8v11.8h-11.8z" fill="#000000"/><path d="M1260.75 176.8h11.8M1266.65 171.3v11M1277.44 123.5h11.8M1283.34 118v11M1294.12 120.2h11.8M1300.02 114.7v11M1310.8 97.8h11.8M1316.7 92.3v11M1327.49 83.6h11.8M1333.39 78.1v11M1344.17 70.7h11.8M1350.07 65.2v11M1360.86 74.8h11.8M1366.76 69.3v11M1377.54 81.9h11.8M1383.44 76.4v11M1394.22 93.9h11.8M1400.12 88.4v11M1410.91 102.7h11.8M1416.81 97.2v11M1427.59 105.4h11.8M1433.49 99.9v11M1444.28 108.9h11.8M1450.18 103.4v11M1460.96 114.2h11.8M1466.86 108.7v11M1477.64 119h11.8M1483.54 113.5v11M1494.33 122.5h11.8M1500.23 117v11M1511.01 126h11.8M1516.91 120.5v11M1527.7 129.6h11.8M1533.6 124.1v11M1544.38 135.9h11.8M1550.28 130.4v11M1561.06 138.4h11.8M1566.96 132.9v11M1577.75 142.5h11.8M1583.65 137v11M1594.43 144.2h11.8M1600.33 138.7v11M1611.12 143.9h11.8M1617.02 138.4v11M1627.8 145.6h11.8M1633.7 140.1v11M1644.48 146.9h11.8M1650.38 141.4v11M1661.17 151h11.8M1667.07 145.5v11M1677.85 157.8h11.8M1683.75 152.3v11M1694.54 163.9h11.8M1700.44 158.4v11M1711.22 168h11.8M1717.12 162.5v11M1727.9 173.7h11.8M1733.8 168.2v11M1744.59 176.3h11.8M1750.49 170.8v11M1761.27 186.9h11.8M1767.17 181.4v11M1777.96 190.1h11.8M1783.86 184.6v11M1794.64 196.3h11.8M1800.54 190.8v11M1811.32 201.6h11.8M1817.22 196.1v11M1828.01 202.8h11.8M1833.91 197.3v11M1844.69 216.1h11.8M1850.59 210.6v11M1861.38 212.2h11.8M1867.28 206.7v11M1878.06 219h11.8M1883.96 213.5v11M1894.74 220.8h11.8M1900.64 215.3v11M1911.43 225.8h11.8M1917.33 220.3v11M1928.11 223.3h11.8M1934.01 217.8v11M1944.8 218.9h11.8M1950.7 213.4v11M1961.48 230.4h11.8M1967.38 224.9v11M1978.16 244.8h11.8M1984.06 239.3v11M1994.85 279h11.8M2000.75 273.5v11M2011.53 358.9h11.8M2017.43 353.4v11" fill="none" stroke="#000000" stroke-width="2.2" stroke-linecap="round"/>
</g>
<rect x="1216.6" y="30.4" width="834.2" height="307.9" fill="none" stroke="#000" stroke-width="2.5" stroke-linejoin="miter"/>
<text x="1140.2" y="89.6" font-size="33.4">10<tspan font-size="24.6" dx="0.5" dy="-14">–</tspan><tspan font-size="24.6" dy="1">1</tspan></text>
<text x="1140.2" y="178.13" font-size="33.4">10<tspan font-size="24.6" dx="0.5" dy="-14">–</tspan><tspan font-size="24.6" dy="1">2</tspan></text>
<text x="1140.2" y="266.66" font-size="33.4">10<tspan font-size="24.6" dx="0.5" dy="-14">–</tspan><tspan font-size="24.6" dy="1">3</tspan></text>
<text x="1140.2" y="355.19" font-size="33.4">10<tspan font-size="24.6" dx="0.5" dy="-14">–</tspan><tspan font-size="24.6" dy="1">4</tspan></text>
<clipPath id="c4"><rect x="1216.6" y="347.1" width="834.2" height="230.8"/></clipPath>
<path d="M1258.31 347.1v6.5M1258.31 577.9v-6.5M1300.02 347.1v12.4M1300.02 577.9v-12.4M1341.73 347.1v6.5M1341.73 577.9v-6.5M1383.44 347.1v12.4M1383.44 577.9v-12.4M1425.15 347.1v6.5M1425.15 577.9v-6.5M1466.86 347.1v12.4M1466.86 577.9v-12.4M1508.57 347.1v6.5M1508.57 577.9v-6.5M1550.28 347.1v12.4M1550.28 577.9v-12.4M1591.99 347.1v6.5M1591.99 577.9v-6.5M1633.7 347.1v12.4M1633.7 577.9v-12.4M1675.41 347.1v6.5M1675.41 577.9v-6.5M1717.12 347.1v12.4M1717.12 577.9v-12.4M1758.83 347.1v6.5M1758.83 577.9v-6.5M1800.54 347.1v12.4M1800.54 577.9v-12.4M1842.25 347.1v6.5M1842.25 577.9v-6.5M1883.96 347.1v12.4M1883.96 577.9v-12.4M1925.67 347.1v6.5M1925.67 577.9v-6.5M1967.38 347.1v12.4M1967.38 577.9v-12.4M2009.09 347.1v6.5M2009.09 577.9v-6.5M1216.6 448.4h12.4M2050.8 448.4h-12.4M1216.6 538.92h6.5M2050.8 538.92h-6.5M1216.6 516.11h6.5M2050.8 516.11h-6.5M1216.6 499.93h6.5M2050.8 499.93h-6.5M1216.6 487.38h6.5M2050.8 487.38h-6.5M1216.6 477.13h6.5M2050.8 477.13h-6.5M1216.6 468.46h6.5M2050.8 468.46h-6.5M1216.6 460.95h6.5M2050.8 460.95h-6.5M1216.6 454.33h6.5M2050.8 454.33h-6.5M1216.6 409.42h6.5M2050.8 409.42h-6.5M1216.6 386.61h6.5M2050.8 386.61h-6.5M1216.6 370.43h6.5M2050.8 370.43h-6.5M1216.6 357.88h6.5M2050.8 357.88h-6.5" fill="none" stroke="#000" stroke-width="2.3" stroke-linecap="round"/>
<g clip-path="url(#c4)">
<path d="M1978.02 500.61L1973.42 498.79" fill="none" stroke="#00ff00" stroke-width="3.2" stroke-linecap="round" stroke-dasharray="9.2 18.4"/>
<circle cx="1984.06" cy="503" r="4.1" fill="#00ff00"/>
<path d="M1226.78 481.11L1223.1 481.11M1243.47 481.14L1239.78 481.13M1260.15 481.16L1256.47 481.16M1276.84 481.18L1273.15 481.18M1293.52 481.21L1289.84 481.2M1310.2 481.23L1306.52 481.23M1326.89 481.25L1323.2 481.25M1343.57 481.28L1339.89 481.27M1360.26 481.3L1356.57 481.3M1376.94 481.32L1373.26 481.32M1393.62 481.35L1389.94 481.34M1410.31 481.37L1406.62 481.37M1426.99 481.39L1423.31 481.39M1443.68 481.42L1439.99 481.41M1460.36 481.44L1456.68 481.44M1477.04 481.46L1473.36 481.46M1493.73 481.49L1490.04 481.48M1510.41 481.51L1506.73 481.51M1527.1 481.53L1523.41 481.53M1543.78 481.56L1540.1 481.55M1560.46 481.58L1556.78 481.58M1577.15 481.6L1573.46 481.6M1593.83 481.63L1590.15 481.62M1610.52 481.65L1606.83 481.65M1627.2 481.67L1623.52 481.67M1643.88 481.7L1640.2 481.69M1660.57 481.72L1656.88 481.72M1677.25 481.74L1673.57 481.74M1693.94 481.77L1690.25 481.76M1710.62 481.79L1706.94 481.79M1727.3 481.92L1723.62 481.88M1743.99 482.06L1740.3 482.04M1760.67 482.22L1756.99 482.18M1777.36 482.36L1773.67 482.34M1794.04 482.46L1790.36 482.44M1810.73 482.68L1807.04 482.62M1827.41 482.98L1823.72 482.92M1844.09 483.34L1840.41 483.26M1860.78 483.74L1857.09 483.66M1877.46 484.27L1873.77 484.13M1894.16 485.3L1890.44 485M1910.85 486.66L1907.12 486.34M1927.54 488.12L1923.8 487.78M1944.24 489.86L1940.47 489.44M1961.24 494.27L1956.84 492.73M1978.65 503.9L1972.79 500M1996.39 521.17L1988.42 512.33M2011.22 522.8L2006.96 524.1M2032.48 578.71L2019.07 527.19" fill="none" stroke="#808080" stroke-width="3.2" stroke-linecap="round" stroke-dasharray="9.2 18.4"/>
<circle cx="1216.6" cy="481.1" r="4.1" fill="#808080"/><circle cx="1233.28" cy="481.12" r="4.1" fill="#808080"/><circle cx="1249.97" cy="481.15" r="4.1" fill="#808080"/><circle cx="1266.65" cy="481.17" r="4.1" fill="#808080"/><circle cx="1283.34" cy="481.19" r="4.1" fill="#808080"/><circle cx="1300.02" cy="481.22" r="4.1" fill="#808080"/><circle cx="1316.7" cy="481.24" r="4.1" fill="#808080"/><circle cx="1333.39" cy="481.26" r="4.1" fill="#808080"/><circle cx="1350.07" cy="481.29" r="4.1" fill="#808080"/><circle cx="1366.76" cy="481.31" r="4.1" fill="#808080"/><circle cx="1383.44" cy="481.33" r="4.1" fill="#808080"/><circle cx="1400.12" cy="481.36" r="4.1" fill="#808080"/><circle cx="1416.81" cy="481.38" r="4.1" fill="#808080"/><circle cx="1433.49" cy="481.4" r="4.1" fill="#808080"/><circle cx="1450.18" cy="481.43" r="4.1" fill="#808080"/><circle cx="1466.86" cy="481.45" r="4.1" fill="#808080"/><circle cx="1483.54" cy="481.47" r="4.1" fill="#808080"/><circle cx="1500.23" cy="481.5" r="4.1" fill="#808080"/><circle cx="1516.91" cy="481.52" r="4.1" fill="#808080"/><circle cx="1533.6" cy="481.54" r="4.1" fill="#808080"/><circle cx="1550.28" cy="481.57" r="4.1" fill="#808080"/><circle cx="1566.96" cy="481.59" r="4.1" fill="#808080"/><circle cx="1583.65" cy="481.61" r="4.1" fill="#808080"/><circle cx="1600.33" cy="481.64" r="4.1" fill="#808080"/><circle cx="1617.02" cy="481.66" r="4.1" fill="#808080"/><circle cx="1633.7" cy="481.68" r="4.1" fill="#808080"/><circle cx="1650.38" cy="481.71" r="4.1" fill="#808080"/><circle cx="1667.07" cy="481.73" r="4.1" fill="#808080"/><circle cx="1683.75" cy="481.75" r="4.1" fill="#808080"/><circle cx="1700.44" cy="481.78" r="4.1" fill="#808080"/><circle cx="1717.12" cy="481.8" r="4.1" fill="#808080"/><circle cx="1733.8" cy="482" r="4.1" fill="#808080"/><circle cx="1750.49" cy="482.1" r="4.1" fill="#808080"/><circle cx="1767.17" cy="482.3" r="4.1" fill="#808080"/><circle cx="1783.86" cy="482.4" r="4.1" fill="#808080"/><circle cx="1800.54" cy="482.5" r="4.1" fill="#808080"/><circle cx="1817.22" cy="482.8" r="4.1" fill="#808080"/><circle cx="1833.91" cy="483.1" r="4.1" fill="#808080"/><circle cx="1850.59" cy="483.5" r="4.1" fill="#808080"/><circle cx="1867.28" cy="483.9" r="4.1" fill="#808080"/><circle cx="1883.96" cy="484.5" r="4.1" fill="#808080"/><circle cx="1900.64" cy="485.8" r="4.1" fill="#808080"/><circle cx="1917.33" cy="487.2" r="4.1" fill="#808080"/><circle cx="1934.01" cy="488.7" r="4.1" fill="#808080"/><circle cx="1950.7" cy="490.6" r="4.1" fill="#808080"/><circle cx="1967.38" cy="496.4" r="4.1" fill="#808080"/><circle cx="1984.06" cy="507.5" r="4.1" fill="#808080"/><circle cx="2000.75" cy="526" r="4.1" fill="#808080"/><circle cx="2017.43" cy="520.9" r="4.1" fill="#808080"/><circle cx="2034.12" cy="585" r="4.1" fill="#808080"/>
<path d="M1944.2 482.77L1940.51 482.63M1963.85 503.34L1954.23 488.46M1982.13 556.19L1969.31 515.01" fill="none" stroke="#0000ff" stroke-width="3.4" stroke-linecap="round"/>
<path d="M1946.95 479.25h7.5v7.5h-7.5zM1963.63 505.05h7.5v7.5h-7.5zM1980.31 558.65h7.5v7.5h-7.5z" fill="#0000ff"/>
<path d="M1226.78 476.21L1223.1 476.21M1243.47 476.24L1239.78 476.23M1260.15 476.26L1256.47 476.26M1276.84 476.28L1273.15 476.28M1293.52 476.31L1289.84 476.3M1310.2 476.33L1306.52 476.33M1326.89 476.35L1323.2 476.35M1343.57 476.38L1339.89 476.37M1360.26 476.4L1356.57 476.4M1376.94 476.42L1373.26 476.42M1393.62 476.45L1389.94 476.44M1410.31 476.47L1406.62 476.47M1426.99 476.49L1423.31 476.49M1443.68 476.52L1439.99 476.51M1460.36 476.54L1456.68 476.54M1477.04 476.56L1473.36 476.56M1493.73 476.59L1490.04 476.58M1510.41 476.61L1506.73 476.61M1527.1 476.63L1523.41 476.63M1543.78 476.66L1540.1 476.65M1560.46 476.68L1556.78 476.68M1577.15 476.7L1573.46 476.7M1593.83 476.73L1590.15 476.72M1610.52 476.75L1606.83 476.75M1627.2 476.77L1623.52 476.77M1643.88 476.8L1640.2 476.79M1660.57 476.82L1656.88 476.82M1677.25 476.84L1673.57 476.84M1693.94 476.87L1690.25 476.86M1710.62 476.89L1706.94 476.89M1727.3 476.96L1723.62 476.94M1743.99 477.06L1740.3 477.04M1760.67 477.16L1756.99 477.14M1777.36 477.32L1773.67 477.28M1794.04 477.46L1790.36 477.44M1810.72 477.62L1807.04 477.58M1827.41 477.88L1823.72 477.82M1844.09 478.18L1840.41 478.12M1860.78 478.48L1857.09 478.42M1877.46 478.91L1873.77 478.79M1894.15 479.47L1890.46 479.33M1910.84 480.31L1907.13 480.09M1927.55 481.74L1923.79 481.36M1944.33 484.5L1940.38 483.7M1961.13 488.8L1956.94 487.6M1978.03 494.88L1973.41 493.02M1994.77 501.85L1990.04 499.85M2010.97 505.56L2007.21 505.14M2032.26 556.17L2019.28 512.53" fill="none" stroke="#ff0000" stroke-width="3.4" stroke-linecap="round"/>
<path d="M1212.85 472.45h7.5v7.5h-7.5zM1229.53 472.47h7.5v7.5h-7.5zM1246.22 472.5h7.5v7.5h-7.5zM1262.9 472.52h7.5v7.5h-7.5zM1279.59 472.54h7.5v7.5h-7.5zM1296.27 472.57h7.5v7.5h-7.5zM1312.95 472.59h7.5v7.5h-7.5zM1329.64 472.61h7.5v7.5h-7.5zM1346.32 472.64h7.5v7.5h-7.5zM1363.01 472.66h7.5v7.5h-7.5zM1379.69 472.68h7.5v7.5h-7.5zM1396.37 472.71h7.5v7.5h-7.5zM1413.06 472.73h7.5v7.5h-7.5zM1429.74 472.75h7.5v7.5h-7.5zM1446.43 472.78h7.5v7.5h-7.5zM1463.11 472.8h7.5v7.5h-7.5zM1479.79 472.82h7.5v7.5h-7.5zM1496.48 472.85h7.5v7.5h-7.5zM1513.16 472.87h7.5v7.5h-7.5zM1529.85 472.89h7.5v7.5h-7.5zM1546.53 472.92h7.5v7.5h-7.5zM1563.21 472.94h7.5v7.5h-7.5zM1579.9 472.96h7.5v7.5h-7.5zM1596.58 472.99h7.5v7.5h-7.5zM1613.27 473.01h7.5v7.5h-7.5zM1629.95 473.03h7.5v7.5h-7.5zM1646.63 473.06h7.5v7.5h-7.5zM1663.32 473.08h7.5v7.5h-7.5zM1680 473.1h7.5v7.5h-7.5zM1696.69 473.13h7.5v7.5h-7.5zM1713.37 473.15h7.5v7.5h-7.5zM1730.05 473.25h7.5v7.5h-7.5zM1746.74 473.35h7.5v7.5h-7.5zM1763.42 473.45h7.5v7.5h-7.5zM1780.11 473.65h7.5v7.5h-7.5zM1796.79 473.75h7.5v7.5h-7.5zM1813.47 473.95h7.5v7.5h-7.5zM1830.16 474.25h7.5v7.5h-7.5zM1846.84 474.55h7.5v7.5h-7.5zM1863.53 474.85h7.5v7.5h-7.5zM1880.21 475.35h7.5v7.5h-7.5zM1896.89 475.95h7.5v7.5h-7.5zM1913.58 476.95h7.5v7.5h-7.5zM1930.26 478.65h7.5v7.5h-7.5zM1946.95 482.05h7.5v7.5h-7.5zM1963.63 486.85h7.5v7.5h-7.5zM1980.31 493.55h7.5v7.5h-7.5zM1997 500.65h7.5v7.5h-7.5zM2013.68 502.55h7.5v7.5h-7.5zM2030.37 558.65h7.5v7.5h-7.5z" fill="#ff0000"/>
</g>
<rect x="1216.6" y="347.1" width="834.2" height="230.8" fill="none" stroke="#000" stroke-width="2.5" stroke-linejoin="miter"/>
<text x="1140.2" y="464.4" font-size="33.4">10<tspan font-size="24.6" dx="0.5" dy="-14">–</tspan><tspan font-size="24.6" dy="1">1</tspan></text>
<text x="1140.2" y="593.7" font-size="33.4">10<tspan font-size="24.6" dx="0.5" dy="-14">–</tspan><tspan font-size="24.6" dy="1">2</tspan></text>
<text x="1216.6" y="621.4" font-size="33.4" text-anchor="middle">0</text>
<text x="1300.02" y="621.4" font-size="33.4" text-anchor="middle">5</text>
<text x="1383.44" y="621.4" font-size="33.4" text-anchor="middle">10</text>
<text x="1466.86" y="621.4" font-size="33.4" text-anchor="middle">15</text>
<text x="1550.28" y="621.4" font-size="33.4" text-anchor="middle">20</text>
<text x="1633.7" y="621.4" font-size="33.4" text-anchor="middle">25</text>
<text x="1717.12" y="621.4" font-size="33.4" text-anchor="middle">30</text>
<text x="1800.54" y="621.4" font-size="33.4" text-anchor="middle">35</text>
<text x="1883.96" y="621.4" font-size="33.4" text-anchor="middle">40</text>
<text x="1967.38" y="621.4" font-size="33.4" text-anchor="middle">45</text>
<text x="2050.8" y="621.4" font-size="33.4" text-anchor="middle">50</text>
<text x="1635" y="671.4" font-size="33.4" text-anchor="middle">Xenon charge state</text>
<text transform="translate(1111.5 184.5) rotate(-90)" font-size="33.4" text-anchor="middle">Relative ion yield</text>
<text transform="translate(1086.6 465.5) rotate(-90)" font-size="33.4" text-anchor="middle">Cross section</text>
<text transform="translate(1126 465.7) rotate(-90)" font-size="33.4" text-anchor="middle">(Mb)</text>
<text x="1059.1" y="30.6" font-size="41.5" font-weight="bold">b</text>
<text x="1782.3" y="83.3" font-size="33.4">8.3 keV</text>
<path d="M224.8 182.8h11.3M259.2 182.8h11.3" fill="none" stroke="#00ff00" stroke-width="3.6" stroke-linecap="round"/>
<circle cx="254.55" cy="182.8" r="4.1" fill="#00ff00"/>
<text x="300.3" y="189.3" font-size="25.1">Nonrelativistic, no resonances</text>
<path d="M224.8 215.3h11.3M259.2 215.3h11.3" fill="none" stroke="#808080" stroke-width="3.6" stroke-linecap="round"/>
<circle cx="254.55" cy="215.3" r="4.1" fill="#808080"/>
<text x="300.3" y="222.1" font-size="25.1">Nonrelativistic, resonances</text>
<path d="M225.1 248H284" fill="none" stroke="#0000ff" stroke-width="3.6" stroke-linecap="round"/>
<rect x="250.85" y="244.3" width="7.4" height="7.4" fill="#0000ff"/>
<text x="300.3" y="255.2" font-size="25.1">Relativistic, no resonances</text>
<path d="M225.1 280.5H284" fill="none" stroke="#ff0000" stroke-width="3.6" stroke-linecap="round"/>
<rect x="250.85" y="276.8" width="7.4" height="7.4" fill="#ff0000"/>
<text x="300.3" y="287.7" font-size="25.1">Relativistic, resonances</text>
<path d="M225.2 312.9H245.6M263.5 312.9H284.6" fill="none" stroke="#000000" stroke-width="2.5" stroke-linecap="round"/>
<rect x="248.65" y="307" width="11.8" height="11.8" fill="#000000"/>
<text x="300.3" y="320.7" font-size="25.1">Experiment</text>
</svg></body></html>
